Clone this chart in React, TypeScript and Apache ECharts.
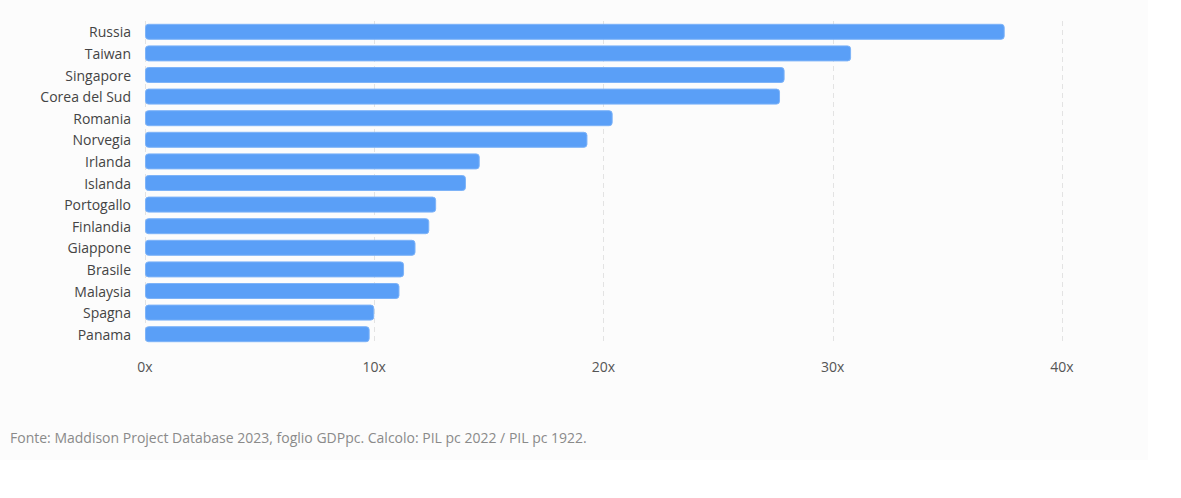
import React, { useEffect, useRef } from "react";
import * as echarts from "echarts";

const countries = [
  "Russia", "Taiwan", "Singapore", "Corea del Sud", "Romania", "Norvegia", "Irlanda", "Islanda",
  "Portogallo", "Finlandia", "Giappone", "Brasile", "Malaysia", "Spagna", "Panama",
];
const ratios = [37.5, 30.8, 27.9, 27.7, 20.4, 19.3, 14.6, 14.0, 12.7, 12.4, 11.8, 11.3, 11.1, 10.0, 9.8];
const note = "Fonte: Maddison Project Database 2023, foglio GDPpc. Calcolo: PIL pc 2022 / PIL pc 1922.";

const font = "'Open Sans', 'Noto Sans', sans-serif";

const App: React.FC = () => {
  const chartRef = useRef<HTMLDivElement>(null);

  useEffect(() => {
    if (!chartRef.current) return;
    const chart = echarts.init(chartRef.current, undefined, { renderer: "svg" });
    chart.setOption({
      animation: false,
      backgroundColor: "#fcfcfc",
      textStyle: { fontFamily: font },
      grid: { left: 145, width: 917, top: 21, height: 324 },
      xAxis: {
        type: "value",
        min: 0,
        max: 40,
        interval: 10,
        axisLine: { show: false },
        axisTick: { show: false },
        axisLabel: { formatter: "{value}x", color: "#555", fontSize: 14, margin: 14, fontFamily: font },
        splitLine: { show: true, lineStyle: { color: "#e3e3e3", type: [5, 4] } },
      },
      yAxis: {
        type: "category",
        data: countries,
        inverse: true,
        axisLine: { show: false },
        axisTick: { show: false },
        axisLabel: { color: "#444", fontSize: 14, margin: 14, fontFamily: font },
      },
      series: [
        {
          type: "bar",
          data: ratios,
          barWidth: 16,
          itemStyle: { color: "#5a9ff7", borderColor: "#7db3f8", borderWidth: 1, borderRadius: 3 },
        },
      ],
      graphic: [
        {
          type: "text",
          left: 10,
          top: 430,
          style: { text: note, fill: "#8a8a8a", fontSize: 14, fontFamily: font },
        },
      ],
    });
    return () => { chart.dispose(); };
  }, []);

  return (
    <div style={{ position: "absolute", left: 0, top: 0, width: 1181, height: 498, background: "#fff" }}>
      <div ref={chartRef} style={{ width: 1148, height: 460 }} />
    </div>
  );
};

export default App;
